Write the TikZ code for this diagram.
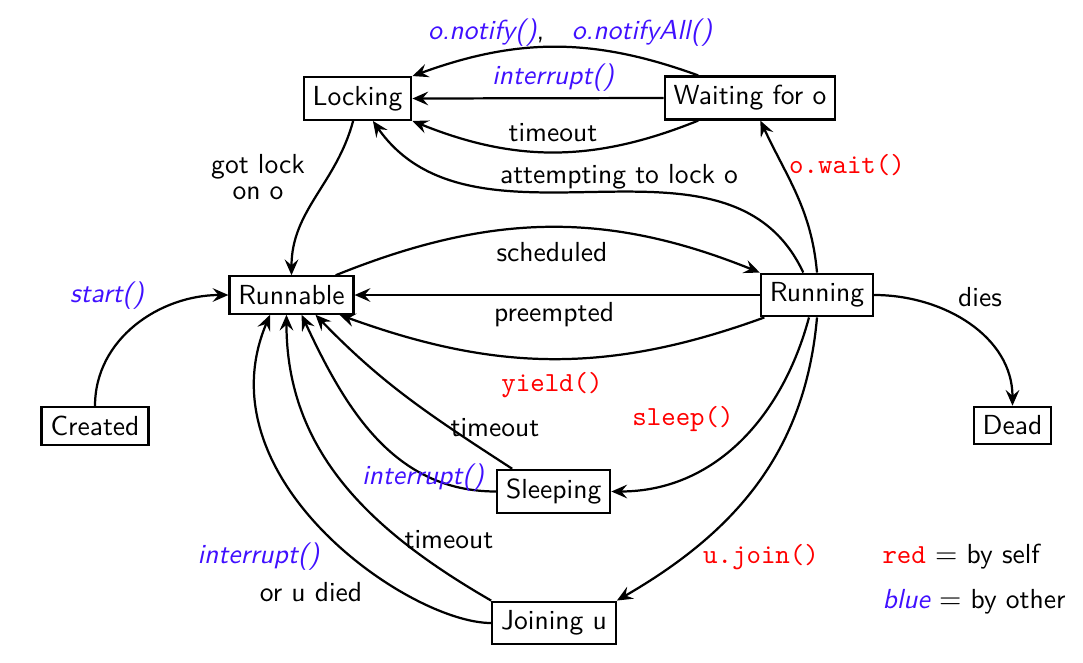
\documentclass[tikz,border=0pt]{standalone}
\usetikzlibrary{arrows.meta,calc}
\definecolor{myblue}{RGB}{64,16,255}
\definecolor{myred}{RGB}{255,0,0}
\newcommand{\myfs}{\fontsize{10.5pt}{12.6pt}\selectfont}
\tikzset{
  state/.style={draw, line width=0.85pt, font=\sffamily\myfs, inner sep=3.4pt},
  edge/.style={line width=0.85pt, -{Stealth[length=6pt,width=5.2pt,inset=2.2pt]}},
  lbl/.style={font=\sffamily\myfs, inner sep=0pt},
  blab/.style={font=\sffamily\itshape\myfs, text=myblue, inner sep=0pt},
  rlab/.style={font=\ttfamily\myfs, text=myred, inner sep=0pt},
}
\begin{document}
\begin{tikzpicture}[x=0.381pt,y=0.381pt]
\useasboundingbox (0,0) rectangle (1083,-662);
% states
\node[state] (lock) at (357.5,-98.5) {Locking};
\node[state] (wait) at (750,-98) {Waiting for o};
\node[state] (rbl) at (291.5,-295) {Runnable};
\node[state] (run) at (817,-295) {Running};
\node[state] (created) at (95,-426) {Created};
\node[state] (dead) at (1012.5,-425.5) {Dead};
\node[state] (sleep) at (553.7,-491.5) {Sleeping};
\node[state] (join) at (554,-623) {Joining u};
% edges
\draw[edge] ($(wait.north west)!0.2!(wait.north east)$) to[out=160,in=20] (lock.north east);
\draw[edge] (wait.west) -- (lock.east);
\draw[edge] ($(wait.south west)!0.2!(wait.south east)$) to[out=202,in=-22] (lock.south east);
\draw[edge] ($(run.north west)!0.38!(run.north east)$) to[out=115,in=-55] ($(lock.south west)!0.64!(lock.south east)$);
\draw[edge] (run.north) to[out=95,in=-65] ($(wait.south west)!0.56!(wait.south east)$);
\draw[edge] ($(lock.south west)!0.46!(lock.south east)$) to[out=-105,in=90] (rbl.north);
\draw[edge] ($(rbl.north west)!0.85!(rbl.north east)$) to[out=22,in=158] (run.north west);
\draw[edge] (run.west) -- (rbl.east);
\draw[edge] ($(run.south west)!0.04!(run.south east)$) to[out=200,in=-20] ($(rbl.south west)!0.88!(rbl.south east)$);
\draw[edge] (created.north) to[out=90,in=180] (rbl.west);
\draw[edge] (run.east) to[out=0,in=90] (dead.north);
\draw[edge] ($(run.south west)!0.43!(run.south east)$) to[out=-105,in=0] (sleep.east);
\draw[edge] (run.south) to[out=-95,in=30] (join.north east);
\draw[edge] ($(sleep.north west)!0.14!(sleep.north east)$) to[out=147,in=-46] ($(rbl.south west)!0.69!(rbl.south east)$);
\draw[edge] (sleep.west) to[out=180,in=-65] ($(rbl.south west)!0.58!(rbl.south east)$);
\draw[edge] (join.north west) to[out=150,in=-90] ($(rbl.south west)!0.46!(rbl.south east)$);
\draw[edge] (join.west) to[out=180,in=-113,out looseness=0.55,in looseness=1.2] ($(rbl.south west)!0.33!(rbl.south east)$);
% labels
\node[lbl] (lnotify) at (570,-33) {\textcolor{myblue}{\itshape o.notify()},\quad\textcolor{myblue}{\itshape o.notifyAll()}};
\node[blab] (lint1) at (553,-78) {interrupt()};
\node[lbl] (lto1) at (553,-133) {timeout};
\node[lbl] (latt) at (619,-177) {attempting to lock o};
\node[rlab] (lwait) at (847,-165) {o.wait()};
\node[lbl, align=center] (lgot) at (258,-177) {got lock\\[-3pt]on o};
\node[lbl] (lsched) at (552,-252) {scheduled};
\node[lbl] (lpre) at (554,-315) {preempted};
\node[rlab] (lyield) at (552,-385) {yield()};
\node[rlab] (lsleep) at (683,-419) {sleep()};
\node[lbl] (ldies) at (980,-297) {dies};
\node[blab] (lstart) at (107,-296) {start()};
\node[lbl] (lto2) at (495,-428) {timeout};
\node[blab] (lint2) at (423,-478) {interrupt()};
\node[lbl] (lto3) at (449,-540) {timeout};
\node[blab] (lint3) at (258.5,-557) {interrupt()};
\node[lbl] (ldied) at (311,-592) {or u died};
\node[rlab] (ljoin) at (761,-557) {u.join()};
\node[lbl, anchor=west] (leg1) at (882,-557) {\textcolor{myred}{\ttfamily red} $=$ by self};
\node[lbl, anchor=west] (leg2) at (882,-602) {\textcolor{myblue}{\itshape blue} $=$ by other};
\end{tikzpicture}
\end{document}
